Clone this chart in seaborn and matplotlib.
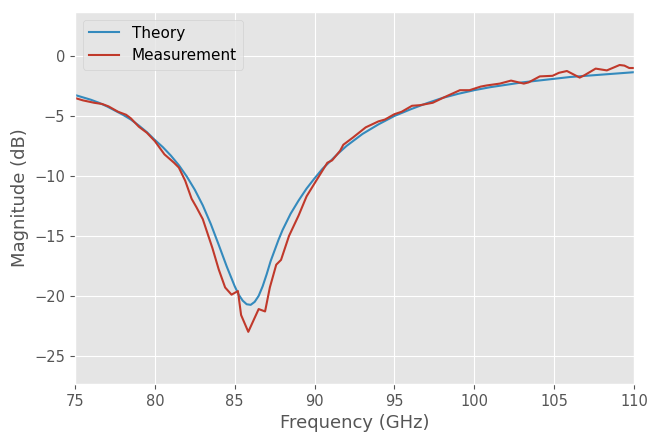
import matplotlib
matplotlib.use("Agg")
import matplotlib.pyplot as plt
import seaborn as sns
import pandas as pd

# Theory curve (GHz, dB)
theory_freq = [75, 75.5, 76, 76.5, 77, 77.5, 78, 78.5, 79, 79.5, 80, 80.5, 81, 81.5,
               82, 82.5, 83, 83.5, 84, 84.5, 85, 85.25, 85.5, 85.75, 86.0, 86.25,
               86.5, 86.75, 87.0, 87.25, 87.5, 87.75, 88, 88.5, 89, 89.5, 90, 90.5,
               91, 91.5, 92, 93, 94, 95, 96, 97, 98, 99, 100, 101, 102, 103, 104,
               105, 106, 107, 108, 109, 110]
theory_mag = [-3.25, -3.45, -3.65, -3.9, -4.2, -4.55, -4.9, -5.3, -5.8, -6.35, -7.0,
              -7.6, -8.3, -9.1, -10.05, -11.15, -12.45, -14.0, -15.75, -17.55, -19.2,
              -19.9, -20.4, -20.7, -20.75, -20.5, -20.0, -19.2, -18.2, -17.1, -16.2,
              -15.3, -14.5, -13.15, -12.05, -11.05, -10.2, -9.4, -8.75, -8.1, -7.5,
              -6.5, -5.7, -5.0, -4.45, -3.95, -3.5, -3.15, -2.85, -2.6, -2.4, -2.2,
              -2.05, -1.9, -1.75, -1.65, -1.55, -1.45, -1.35]

# Measurement curve (GHz, dB)
meas_freq = [75.0, 75.5, 76.2, 76.7, 77.1, 77.7, 78.2, 78.5, 79.0, 79.5, 80.0, 80.6,
             81.2, 81.5, 81.9, 82.3, 82.6, 83.0, 83.6, 84.0, 84.4, 84.8, 85.2, 85.4,
             85.85, 86.5, 86.9, 87.2, 87.6, 87.9, 88.4, 89.0, 89.5, 90.1, 90.8, 91.1,
             91.6, 91.8, 92.4, 93.2, 94.0, 94.4, 95.0, 95.45, 96.1, 96.6, 97.4, 98.1,
             99.1, 99.7, 100.4, 100.8, 101.6, 102.3, 103.1, 103.4, 104.1, 104.9, 105.3,
             105.8, 106.6, 106.9, 107.6, 108.3, 109.1, 109.4, 109.7, 110.0]
meas_mag = [-3.5, -3.7, -3.9, -4.0, -4.2, -4.65, -4.9, -5.2, -5.9, -6.4, -7.1, -8.2,
            -8.9, -9.3, -10.4, -11.9, -12.6, -13.6, -16.0, -17.8, -19.3, -19.9, -19.6,
            -21.6, -23.0, -21.1, -21.3, -19.3, -17.4, -17.0, -15.0, -13.3, -11.7, -10.4,
            -8.9, -8.7, -7.9, -7.4, -6.8, -5.95, -5.45, -5.3, -4.85, -4.65, -4.15, -4.1,
            -3.9, -3.45, -2.85, -2.85, -2.55, -2.45, -2.3, -2.05, -2.3, -2.2, -1.7,
            -1.65, -1.4, -1.25, -1.8, -1.6, -1.05, -1.2, -0.75, -0.8, -1.0, -1.0]

series_names = ["Theory", "Measurement"]
series_colors = ["#348ABD", "#C0392B"]

df = pd.concat([
    pd.DataFrame({"Frequency": theory_freq, "Magnitude": theory_mag, "Series": series_names[0]}),
    pd.DataFrame({"Frequency": meas_freq, "Magnitude": meas_mag, "Series": series_names[1]}),
], ignore_index=True)

plt.style.use("ggplot")
fig = plt.figure(figsize=(6.62, 4.43), dpi=100)
ax = fig.add_axes([75 / 662, 1 - 384 / 443, 559 / 662, 372 / 443])

sns.lineplot(data=df, x="Frequency", y="Magnitude", hue="Series",
             palette=dict(zip(series_names, series_colors)), linewidth=1.5,
             sort=False, ax=ax)

ax.set_xlim(75, 110)
ax.set_ylim(-27.35, 3.67)
ax.set_xticks([75, 80, 85, 90, 95, 100, 105, 110])
ax.set_yticks([0, -5, -10, -15, -20, -25])
ax.set_xlabel("Frequency (GHz)", fontsize=13, color="#555555")
ax.set_ylabel("Magnitude (dB)", fontsize=13, color="#555555")
ax.tick_params(labelsize=10.5)
leg = ax.legend(loc="upper left", fontsize=11, title=None)

fig.savefig("out.png", dpi=100)
